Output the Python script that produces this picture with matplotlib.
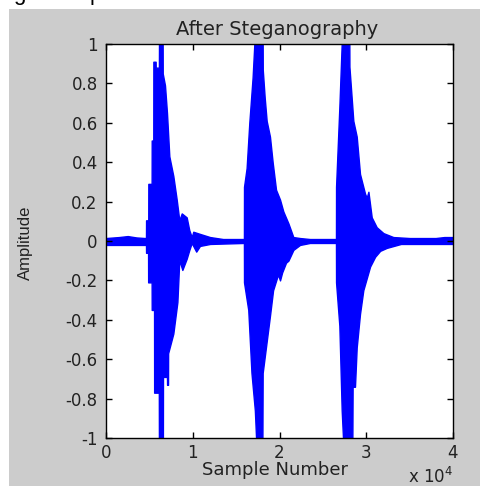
import matplotlib
matplotlib.use("Agg")
import matplotlib.pyplot as plt
from matplotlib.patches import Rectangle

# ---- data: waveform envelope ----
upper_x = [0, 1500, 2500, 3500, 4500, 4610, 4620, 4870, 4880, 5260, 5270, 5450, 5460,
           5720, 5730, 6100, 6110, 6530, 6540, 6800, 7030, 7300, 7760, 8150, 8450, 8730,
           9300, 9600, 9880, 10060, 10830, 11990, 13490, 15900, 15910, 16210, 16520,
           16900, 17100, 18060, 18070, 18290, 18520, 18900, 19210, 19600, 20060, 20440,
           21020, 21300, 21590, 22360, 23500, 26510, 26520, 26900, 27170, 28050, 28060,
           28510, 28900, 29280, 29860, 30050, 30250, 30630, 31200, 31980, 33120, 35000,
           38000, 39000, 40000]
upper_y = [0.015, 0.02, 0.025, 0.018, 0.015, 0.015, 0.105, 0.105, 0.29, 0.29, 0.51, 0.51, 0.91,
           0.91, 0.88, 0.88, 1.0, 1.0, 0.85, 0.79, 0.65, 0.43, 0.33, 0.21, 0.105, 0.14,
           0.12, 0.055, 0.02, 0.047, 0.036, 0.02, 0.01, 0.01, 0.275, 0.37, 0.6,
           0.83, 1.0, 1.0, 0.87, 0.73, 0.61, 0.53, 0.40, 0.26, 0.21, 0.15,
           0.09, 0.056, 0.02, 0.015, 0.01, 0.01, 0.275, 0.68, 1.0, 1.0, 0.885,
           0.61, 0.53, 0.34, 0.24, 0.22, 0.25, 0.12, 0.07, 0.04, 0.02, 0.015,
           0.015, 0.02, 0.02]

lower_x = [0, 4610, 4620, 4850, 4860, 5260, 5270, 5540, 5550, 6090, 6100, 6560, 6570,
           7030, 7040, 7150, 7160, 7760, 8230, 8450, 8800, 9300, 9600, 9880, 10400,
           10830, 12000, 15900, 15910, 16400, 16770, 17160, 17300, 18030, 18060, 18900,
           19260, 19830, 20060, 20300, 20750, 21020, 21600, 22360, 23500, 26510, 26520,
           26900, 27170, 27320, 28400, 28430, 28700, 28900, 29280, 29660, 30050, 30440,
           31020, 31600, 32360, 34000, 40000]
lower_y = [-0.02, -0.02, -0.06, -0.06, -0.21, -0.21, -0.35, -0.35, -0.77, -0.77, -1.0, -1.0, -0.69,
           -0.69, -0.73, -0.73, -0.57, -0.47, -0.31, -0.096, -0.147, -0.09, -0.046, -0.01, -0.054,
           -0.025, -0.015, -0.01, -0.21, -0.35, -0.67, -0.86, -1.0, -1.0, -0.67, -0.38,
           -0.25, -0.17, -0.2, -0.16, -0.11, -0.1, -0.045, -0.02, -0.01, -0.01, -0.21,
           -0.43, -0.86, -1.0, -1.0, -0.74, -0.74, -0.54, -0.37, -0.25, -0.19, -0.13,
           -0.08, -0.05, -0.035, -0.015, -0.015]

x_ticks = [0, 10000, 20000, 30000, 40000]
x_tick_labels = ["0", "1", "2", "3", "4"]
y_ticks = [-1, -0.8, -0.6, -0.4, -0.2, 0, 0.2, 0.4, 0.6, 0.8, 1]
y_tick_labels = ["-1", "-0.8", "-0.6", "-0.4", "-0.2", "0", "0.2", "0.4", "0.6", "0.8", "1"]

W, H = 480, 486
fig = plt.figure(figsize=(W / 100, H / 100), dpi=100)
fig.patch.set_facecolor("white")
fig.add_artist(Rectangle((9 / W, 0), 1 - 9 / W, 1 - 9 / H, transform=fig.transFigure,
                         facecolor="#cccccc", edgecolor="none", zorder=0))

ax = fig.add_axes([106 / W, 1 - 438 / H, (453 - 106) / W, (438 - 44) / H])
ax.set_facecolor("white")
ax.fill_between(upper_x, upper_y, 0, color="#0000ff", lw=1.0, edgecolor="#0000ff")
ax.fill_between(lower_x, lower_y, 0, color="#0000ff", lw=1.0, edgecolor="#0000ff")
ax.set_xlim(0, 40000)
ax.set_ylim(-1, 1)

tick_font = dict(family="DejaVu Sans", size=12, color="#222222")
ax.set_xticks(x_ticks)
ax.set_xticklabels(x_tick_labels, **tick_font)
ax.set_yticks(y_ticks)
ax.set_yticklabels(y_tick_labels, **tick_font)
ax.tick_params(direction="in", length=4, width=1, top=True, right=True, color="black")
ax.tick_params(axis="y", pad=6)
ax.tick_params(axis="x", pad=4)
for s in ax.spines.values():
    s.set_linewidth(1.0)
    s.set_color("black")

fig.text(277 / W, 1 - 35 / H, "After Steganography", ha="center", va="baseline",
         family="DejaVu Sans", size=14, color="#222222")
fig.text(275 / W, 1 - 475 / H, "Sample Number", ha="center", va="baseline",
         family="DejaVu Sans", size=13, color="#222222")
fig.text(453 / W, 1 - 483 / H, r"x 10$^{4}$", ha="right", va="baseline",
         family="DejaVu Sans", size=12, color="#222222")
fig.text(25 / W, 0.5, "Amplitude", rotation=90, ha="center", va="center",
         family="Liberation Sans", size=12, color="#222222")

# cropped line of text above the figure (only descenders visible)
fig.text(19 / W, 1.0, "g", ha="center", va="baseline", family="Liberation Sans", size=16, color="black")
fig.text(90 / W, 1.0, "p", ha="left", va="baseline", family="Liberation Sans", size=16, color="black")

fig.savefig("out.png", dpi=100)
